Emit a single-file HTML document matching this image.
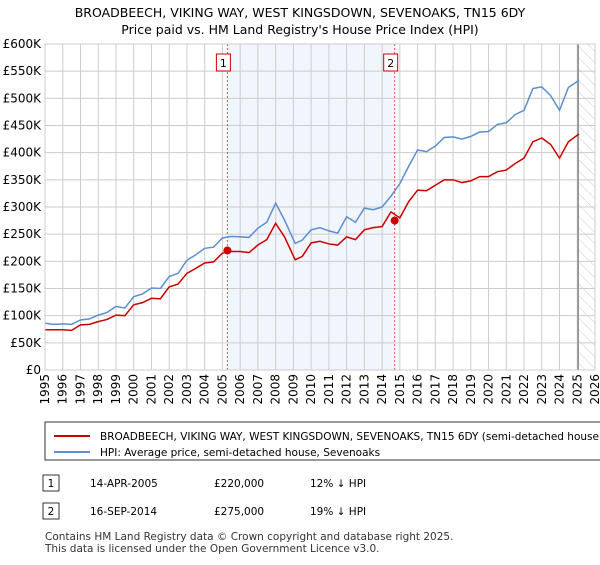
<!DOCTYPE html>
<html><head><meta charset="utf-8"><style>
body{margin:0;background:#fff;font-family:"Liberation Sans","DejaVu Sans",sans-serif;}
svg text{font-family:"DejaVu Sans","Liberation Sans",sans-serif;}
</style></head><body>
<svg width="600" height="560" viewBox="0 0 600 560">
<defs><pattern id="hatch" width="8" height="8" patternUnits="userSpaceOnUse" patternTransform="rotate(-45)"><line x1="0" y1="0" x2="0" y2="8" stroke="#ccc" stroke-width="1"/></pattern></defs>
<text x="300" y="17" text-anchor="middle" font-size="12.5">BROADBEECH, VIKING WAY, WEST KINGSDOWN, SEVENOAKS, TN15 6DY</text>
<text x="300" y="34" text-anchor="middle" font-size="12.5">Price paid vs. HM Land Registry's House Price Index (HPI)</text>
<g id="plot"></g>
<g>
<rect x="45" y="422" width="560" height="38" fill="#fff" stroke="#333" stroke-width="1"/>
<line x1="54" y1="436" x2="90" y2="436" stroke="#cc0000" stroke-width="2"/>
<text x="100" y="440" font-size="10.5">BROADBEECH, VIKING WAY, WEST KINGSDOWN, SEVENOAKS, TN15 6DY (semi-detached house</text>
<line x1="54" y1="452" x2="90" y2="452" stroke="#5b8fd0" stroke-width="2"/>
<text x="100" y="456" font-size="10.5">HPI: Average price, semi-detached house, Sevenoaks</text>
</g>
<g font-size="10.5">
<rect x="43" y="475" width="16" height="16" fill="#fff" stroke="#333"/><text x="51" y="487" text-anchor="middle">1</text>
<text x="90" y="487">14-APR-2005</text><text x="214" y="487">£220,000</text><text x="310" y="487">12% ↓ HPI</text>
<rect x="43" y="503" width="16" height="16" fill="#fff" stroke="#333"/><text x="51" y="515" text-anchor="middle">2</text>
<text x="90" y="515">16-SEP-2014</text><text x="214" y="515">£275,000</text><text x="310" y="515">19% ↓ HPI</text>
</g>
<text x="45" y="540" font-size="10.5" fill="#333">Contains HM Land Registry data © Crown copyright and database right 2025.</text>
<text x="45" y="552" font-size="10.5" fill="#333">This data is licensed under the Open Government Licence v3.0.</text>
</svg>
<script>
const yTicks=[0,50,100,150,200,250,300,350,400,450,500,550,600];
const yTickLabels=["£0","£50K","£100K","£150K","£200K","£250K","£300K","£350K","£400K","£450K","£500K","£550K","£600K"];
const years=[1995,1996,1997,1998,1999,2000,2001,2002,2003,2004,2005,2006,2007,2008,2009,2010,2011,2012,2013,2014,2015,2016,2017,2018,2019,2020,2021,2022,2023,2024,2025,2026];
const hpiDates=[1995,1995.5,1996,1996.5,1997,1997.5,1998,1998.5,1999,1999.5,2000,2000.5,2001,2001.5,2002,2002.5,2003,2003.5,2004,2004.5,2005,2005.5,2006,2006.5,2007,2007.5,2008,2008.5,2009.1,2009.5,2010,2010.5,2011,2011.5,2012,2012.5,2013,2013.5,2014,2014.5,2015,2015.5,2016,2016.5,2017,2017.5,2018,2018.5,2019,2019.5,2020,2020.5,2021,2021.5,2022,2022.5,2023,2023.5,2024,2024.5,2025,2025.1];
const hpiValues=[86,84,85,84,92,94,101,106,117,114,135,140,151,150,172,178,202,212,224,226,243,246,245,244,261,272,307,276,233,239,258,262,256,252,282,272,298,295,300,320,343,375,405,402,412,428,429,425,430,438,439,452,455,470,478,518,521,505,478,520,531,533];
const ppDates=[1995,1995.5,1996,1996.5,1997,1997.5,1998,1998.5,1999,1999.5,2000,2000.5,2001,2001.5,2002,2002.5,2003,2003.5,2004,2004.5,2005,2005.5,2006,2006.5,2007,2007.5,2008,2008.5,2009.1,2009.5,2010,2010.5,2011,2011.5,2012,2012.5,2013,2013.5,2014,2014.5,2015,2015.5,2016,2016.5,2017,2017.5,2018,2018.5,2019,2019.5,2020,2020.5,2021,2021.5,2022,2022.5,2023,2023.5,2024,2024.5,2025,2025.1];
const ppValues=[74,74,74,73,83,84,89,93,101,100,120,124,132,131,153,158,178,187,197,199,215,218,218,216,230,240,270,245,203,209,234,237,232,230,245,240,258,262,264,291,280,310,331,330,340,350,350,345,348,356,356,365,368,380,390,420,427,415,390,420,432,434];
const sales=[{n:"1",d:2005.28,v:220},{n:"2",d:2014.71,v:275}];
const X0=45,X1=595,Y0=370,Y1=44;
const xs=d=>X0+(d-1995)/(2026-1995)*(X1-X0);
const ys=v=>Y0-v/600*(Y0-Y1);
const NS="http://www.w3.org/2000/svg";
const g=document.getElementById('plot');
function el(t,a,p){const e=document.createElementNS(NS,t);for(const k in a)e.setAttribute(k,a[k]);(p||g).appendChild(e);return e;}
let r=el('rect',{x:xs(sales[0].d),y:Y1,width:xs(sales[1].d)-xs(sales[0].d),height:Y0-Y1,fill:'#eef3fc',opacity:0.8});


r=el('rect',{x:xs(2025.05),y:Y1,width:X1-xs(2025.05),height:Y0-Y1,fill:'url(#hatch)'});


yTicks.forEach((t,i)=>{
 el('line',{x1:X0,x2:X1,y1:ys(t),y2:ys(t),stroke:'#ccc','stroke-width':1});
 const tx=el('text',{x:X0-4,y:ys(t)+4,'text-anchor':'end','font-size':12});
 tx.textContent=yTickLabels[i];
 
 
});
years.forEach(y=>{
 el('line',{x1:xs(y),x2:xs(y),y1:Y1,y2:Y0,stroke:'#ccc','stroke-width':1});
 const x=xs(y)+4,yy=Y0+4;
 const tx=el('text',{x:x,y:yy,'text-anchor':'end','font-size':12,transform:'rotate(-90 '+x+' '+yy+')'});
 tx.textContent=y;
 
 
});
el('line',{x1:xs(2025.05),x2:xs(2025.05),y1:Y1,y2:Y0,stroke:'#888','stroke-width':1.5});
sales.forEach(s=>{
 const l=el('line',{x1:xs(s.d),x2:xs(s.d),y1:Y1,y2:Y0,stroke:'#e05050','stroke-width':1,'stroke-dasharray':'2,2'});
 
 
 el('rect',{x:xs(s.d)-11,y:Y1+10,width:14,height:17,fill:'#fff',stroke:'#cc0000'});
 const t=el('text',{x:xs(s.d)-4,y:Y1+23,'text-anchor':'middle','font-size':11});
 t.textContent=s.n;
 
 
});
function line(dates,vals,c,name){
 const p=el('polyline',{points:dates.map((d,i)=>xs(d)+','+ys(vals[i])).join(' '),fill:'none',stroke:c,'stroke-width':1.5});
 
 
}
line(hpiDates,hpiValues,'#5b8fd0','hpi-line');
line(ppDates,ppValues,'#cc0000','price-paid-line');
sales.forEach(s=>{
 const c=el('circle',{cx:xs(s.d),cy:ys(s.v),r:4,fill:'#cc0000'});
 
 
});
el('rect',{x:X0,y:Y1,width:X1-X0,height:Y0-Y1,fill:'none',stroke:'#ccc'});
</script>
</body></html>
